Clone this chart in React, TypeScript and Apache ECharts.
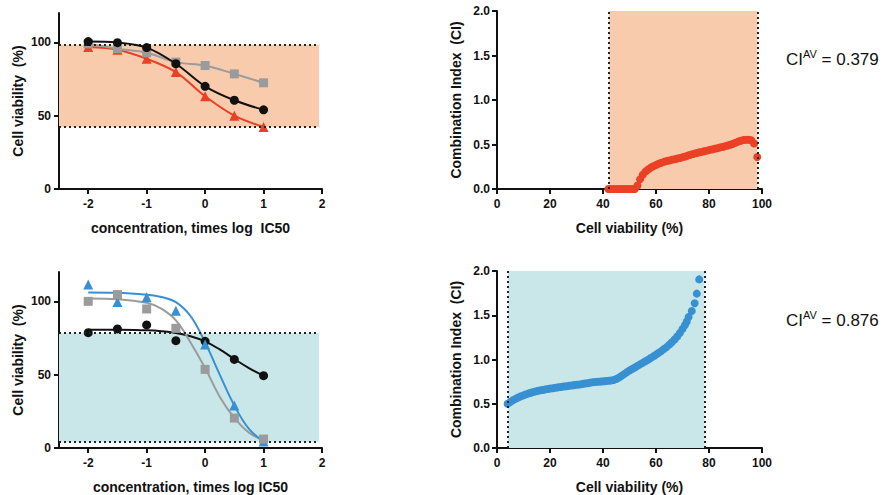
import React, { useEffect, useRef } from "react";
import * as echarts from "echarts";

// ---- data ----
const doseX = [-2, -1.5, -1, -0.5, 0, 0.5, 1];
const leftXTicks = [-2, -1, 0, 1, 2];
const leftYTicks = [0, 50, 100];

// top-left panel (points, connected)
const tlBlack = [100.5, 99.8, 96.4, 85.4, 70, 60.5, 54];
const tlGray = [99, 95.7, 92.9, 86.5, 84.2, 78.5, 72.4];
const tlRed = [96.8, 95, 88.8, 79.7, 63.2, 50, 42.3];

// bottom-left panel (points + fitted curves)
const blBlack = [78.6, 81.2, 83.9, 73.2, 72.7, 60.4, 49.3];
const blGray = [100, 104.6, 94.8, 81.6, 53.6, 20.4, 6.1];
const blBlue = [111.5, 99.6, 102.7, 93.6, 70.5, 28.9, 4.5];
const fitX = [-2, -1.5, -1, -0.75, -0.5, -0.25, 0, 0.25, 0.5, 0.75, 1];
const blBlackFit = [80.7, 80.6, 80.2, 79.6, 78.4, 76.2, 72.7, 67.2, 60.7, 54.5, 49.3];
const blGrayFit = [102, 101.5, 99, 95, 87, 72, 54.5, 35, 20.5, 10.5, 5.5];
const blBlueFit = [106, 105.8, 104.5, 103, 99.5, 90, 72, 50, 29, 13, 4.5];

// viability bands
const topBand = [42.3, 98.3];
const bottomBand = [4.2, 78.3];
const leftBandX = [-2.5, 1.95];

// top-right CI scatter
const ciTopViability = [
  42, 43, 44, 45, 46, 47, 48, 49, 50, 51, 52, 53, 54, 55, 56, 57, 58, 59, 60, 61,
  62, 63, 64, 65, 66, 67, 68, 69, 70, 71, 72, 73, 74, 75, 76, 77, 78, 79, 80, 81,
  82, 83, 84, 85, 86, 87, 88, 89, 90, 91, 92, 93, 94, 95, 96, 97, 98.2,
];
const ciTopValue = [
  0, 0, 0, 0, 0, 0, 0, 0, 0, 0, 0, 0.04, 0.11, 0.16, 0.195, 0.22, 0.24, 0.255, 0.27, 0.283,
  0.295, 0.305, 0.314, 0.321, 0.328, 0.334, 0.341, 0.349, 0.357, 0.366, 0.375, 0.384, 0.393, 0.401, 0.409, 0.416, 0.423, 0.43, 0.437, 0.444,
  0.451, 0.458, 0.465, 0.472, 0.479, 0.487, 0.497, 0.508, 0.52, 0.532, 0.543, 0.55, 0.554, 0.554, 0.546, 0.512, 0.36,
];

// bottom-right CI scatter
const ciBottomViability = [
  4, 5, 6, 7, 8, 9, 10, 11, 12, 13, 14, 15, 16, 17, 18, 19, 20, 21, 22, 23,
  24, 25, 26, 27, 28, 29, 30, 31, 32, 33, 34, 35, 36, 37, 38, 39, 40, 41, 42, 43,
  44, 45, 46, 47, 48, 49, 50, 51, 52, 53, 54, 55, 56, 57, 58, 59, 60, 61, 62, 63,
  64, 65, 66, 67, 68, 69, 70, 70.9, 71.6, 72.3, 73.5, 74.6, 75.4, 76.3,
];
const ciBottomValue = [
  0.5, 0.52, 0.54, 0.555, 0.57, 0.585, 0.595, 0.607, 0.617, 0.626, 0.635, 0.643, 0.65, 0.655, 0.66, 0.666, 0.671, 0.676, 0.68, 0.685,
  0.69, 0.694, 0.698, 0.702, 0.706, 0.71, 0.714, 0.718, 0.722, 0.727, 0.732, 0.737, 0.742, 0.746, 0.748, 0.75, 0.753, 0.756, 0.76, 0.763,
  0.768, 0.78, 0.795, 0.815, 0.835, 0.855, 0.875, 0.893, 0.91, 0.928, 0.945, 0.962, 0.98, 0.998, 1.016, 1.035, 1.055, 1.075, 1.095, 1.118,
  1.14, 1.168, 1.195, 1.225, 1.26, 1.3, 1.345, 1.387, 1.43, 1.48, 1.548, 1.635, 1.744, 1.905,
];

const ciLabels = ["0.379", "0.876"];

// ---- styles ----
const FONT = "'Liberation Sans', Arial, sans-serif";
const ORANGE_BAND = "#F8CBAD";
const TEAL_BAND = "#C9E7E9";
const RED = "#EA4025";
const GRAY = "#9B9B9B";
const BLUE = "#3790D1";
const BLACK = "#111111";
const NAME_SIZE = 14;

const zip = (xs: number[], ys: number[]) => xs.map((x, i) => [x, ys[i]]);

function leftXAxis(gridIndex: number, name: string) {
  return {
    type: "value",
    gridIndex,
    min: -2.5,
    max: 2,
    name,
    nameLocation: "middle",
    nameGap: 32,
    nameTextStyle: { fontFamily: FONT, fontWeight: "bold", fontSize: NAME_SIZE, color: BLACK },
    axisLine: { show: true, onZero: false, lineStyle: { color: BLACK, width: 2 } },
    axisTick: { show: true, length: 5, customValues: leftXTicks, lineStyle: { color: BLACK, width: 2 } },
    axisLabel: { customValues: leftXTicks, margin: 9, fontFamily: FONT, fontWeight: "bold", fontSize: 12, color: BLACK },
    splitLine: { show: false },
  };
}
function leftYAxis(gridIndex: number) {
  return {
    type: "value",
    gridIndex,
    min: 0,
    max: 120,
    name: "Cell viability  (%)",
    nameLocation: "middle",
    nameGap: 34,
    nameTextStyle: { fontFamily: FONT, fontWeight: "bold", fontSize: NAME_SIZE, color: BLACK },
    axisLine: { show: true, onZero: false, lineStyle: { color: BLACK, width: 2 } },
    axisTick: { show: true, length: 5, customValues: leftYTicks, lineStyle: { color: BLACK, width: 2 } },
    axisLabel: { customValues: leftYTicks, margin: 8, fontFamily: FONT, fontWeight: "bold", fontSize: 12, color: BLACK },
    splitLine: { show: false },
  };
}
function rightXAxis(gridIndex: number) {
  return {
    type: "value",
    gridIndex,
    min: 0,
    max: 100,
    interval: 20,
    name: "Cell viability (%)",
    nameLocation: "middle",
    nameGap: 32,
    nameTextStyle: { fontFamily: FONT, fontWeight: "bold", fontSize: NAME_SIZE, color: BLACK },
    axisLine: { show: true, onZero: false, lineStyle: { color: BLACK, width: 2 } },
    axisTick: { show: true, length: 5, lineStyle: { color: BLACK, width: 2 } },
    axisLabel: { margin: 9, fontFamily: FONT, fontWeight: "bold", fontSize: 12, color: BLACK },
    splitLine: { show: false },
  };
}
function rightYAxis(gridIndex: number) {
  return {
    type: "value",
    gridIndex,
    min: 0,
    max: 2,
    interval: 0.5,
    name: "Combination Index  (CI)",
    nameLocation: "middle",
    nameGap: 34,
    nameTextStyle: { fontFamily: FONT, fontWeight: "bold", fontSize: NAME_SIZE, color: BLACK },
    axisLine: { show: true, onZero: false, lineStyle: { color: BLACK, width: 2 } },
    axisTick: { show: true, length: 5, lineStyle: { color: BLACK, width: 2 } },
    axisLabel: {
      margin: 7,
      fontFamily: FONT,
      fontWeight: "bold",
      fontSize: 12,
      color: BLACK,
      formatter: (v: number) => v.toFixed(1),
    },
    splitLine: { show: false },
  };
}

const dotted = { color: "#222", width: 2, type: [2, 3] };

function horizontalBand(idx: number, band: number[], color: string) {
  return {
    type: "line",
    xAxisIndex: idx,
    yAxisIndex: idx,
    data: [],
    z: 1,
    silent: true,
    markArea: {
      silent: true,
      itemStyle: { color, opacity: 1 },
      data: [[{ coord: [leftBandX[0], band[0]] }, { coord: [leftBandX[1], band[1]] }]],
    },
    markLine: {
      silent: true,
      symbol: "none",
      label: { show: false },
      lineStyle: dotted,
      data: [
        [{ coord: [leftBandX[0], band[0]] }, { coord: [leftBandX[1], band[0]] }],
        [{ coord: [leftBandX[0], band[1]] }, { coord: [leftBandX[1], band[1]] }],
      ],
    },
  };
}
function verticalBand(idx: number, band: number[], color: string) {
  return {
    type: "line",
    xAxisIndex: idx,
    yAxisIndex: idx,
    data: [],
    z: 1,
    silent: true,
    markArea: {
      silent: true,
      itemStyle: { color, opacity: 1 },
      data: [[{ coord: [band[0], 0] }, { coord: [band[1], 2] }]],
    },
    markLine: {
      silent: true,
      symbol: "none",
      label: { show: false },
      lineStyle: dotted,
      data: [
        [{ coord: [band[0], 0] }, { coord: [band[0], 2] }],
        [{ coord: [band[1], 0] }, { coord: [band[1], 2] }],
      ],
    },
  };
}

function pointLine(idx: number, ys: number[], color: string, symbol: string, size: number, z: number) {
  return {
    type: "line",
    xAxisIndex: idx,
    yAxisIndex: idx,
    data: zip(doseX, ys),
    smooth: 0.35,
    symbol,
    symbolSize: size,
    showSymbol: true,
    z,
    lineStyle: { color, width: 2 },
    itemStyle: { color, borderWidth: 0 },
  };
}
function fitLine(idx: number, ys: number[], color: string, z: number) {
  return {
    type: "line",
    xAxisIndex: idx,
    yAxisIndex: idx,
    data: zip(fitX, ys),
    smooth: 0.4,
    showSymbol: false,
    symbol: "none",
    z,
    lineStyle: { color, width: 2 },
  };
}
function pointsOnly(idx: number, ys: number[], color: string, symbol: string, size: number, z: number) {
  return {
    type: "scatter",
    xAxisIndex: idx,
    yAxisIndex: idx,
    data: zip(doseX, ys),
    symbol,
    symbolSize: size,
    z,
    itemStyle: { color, opacity: 1 },
  };
}

function ciLabel(top: number, value: string) {
  return {
    type: "text",
    left: 786,
    top,
    style: {
      text: "{a|CI}{b|AV}{a| = " + value + "}",
      rich: {
        a: { fontFamily: FONT, fontSize: 17, lineHeight: 22, verticalAlign: "middle", fill: BLACK },
        b: { fontFamily: FONT, fontSize: 11, lineHeight: 10, verticalAlign: "top", fill: BLACK },
      },
    },
  };
}

export default function App() {
  const ref = useRef<HTMLDivElement>(null);
  useEffect(() => {
    if (!ref.current) return;
    const chart = echarts.init(ref.current, null, { renderer: "svg" });
    chart.setOption({
      animation: false,
      backgroundColor: "#ffffff",
      grid: [
        { left: 59, top: 13, width: 263, height: 176 },
        { left: 497, top: 11, width: 265, height: 178 },
        { left: 59, top: 272, width: 263, height: 176 },
        { left: 497, top: 271, width: 265, height: 177 },
      ],
      xAxis: [
        leftXAxis(0, "concentration, times log  IC50"),
        rightXAxis(1),
        leftXAxis(2, "concentration, times log IC50"),
        rightXAxis(3),
      ],
      yAxis: [leftYAxis(0), rightYAxis(1), leftYAxis(2), rightYAxis(3)],
      series: [
        horizontalBand(0, topBand, ORANGE_BAND),
        pointLine(0, tlRed, RED, "triangle", 10, 3),
        pointLine(0, tlGray, GRAY, "rect", 9, 4),
        pointLine(0, tlBlack, BLACK, "circle", 9, 5),

        verticalBand(1, topBand, ORANGE_BAND),
        {
          type: "scatter",
          xAxisIndex: 1,
          yAxisIndex: 1,
          data: zip(ciTopViability, ciTopValue),
          symbolSize: 8,
          z: 3,
          itemStyle: { color: RED, opacity: 1 },
        },

        horizontalBand(2, bottomBand, TEAL_BAND),
        fitLine(2, blBlackFit, BLACK, 3),
        fitLine(2, blGrayFit, GRAY, 3),
        fitLine(2, blBlueFit, BLUE, 3),
        pointsOnly(2, blBlack, BLACK, "circle", 9, 4),
        pointsOnly(2, blBlue, BLUE, "triangle", 10, 4),
        pointsOnly(2, blGray, GRAY, "rect", 9, 5),

        verticalBand(3, bottomBand, TEAL_BAND),
        {
          type: "scatter",
          xAxisIndex: 3,
          yAxisIndex: 3,
          data: zip(ciBottomViability, ciBottomValue),
          symbolSize: 8,
          z: 3,
          itemStyle: { color: BLUE, opacity: 1 },
        },
      ],
      graphic: [ciLabel(48, ciLabels[0]), ciLabel(309, ciLabels[1])],
    });
    return () => chart.dispose();
  }, []);
  return (
    <div
      ref={ref}
      style={{ position: "absolute", left: 0, top: 0, width: 890, height: 495, background: "#fff" }}
    />
  );
}
